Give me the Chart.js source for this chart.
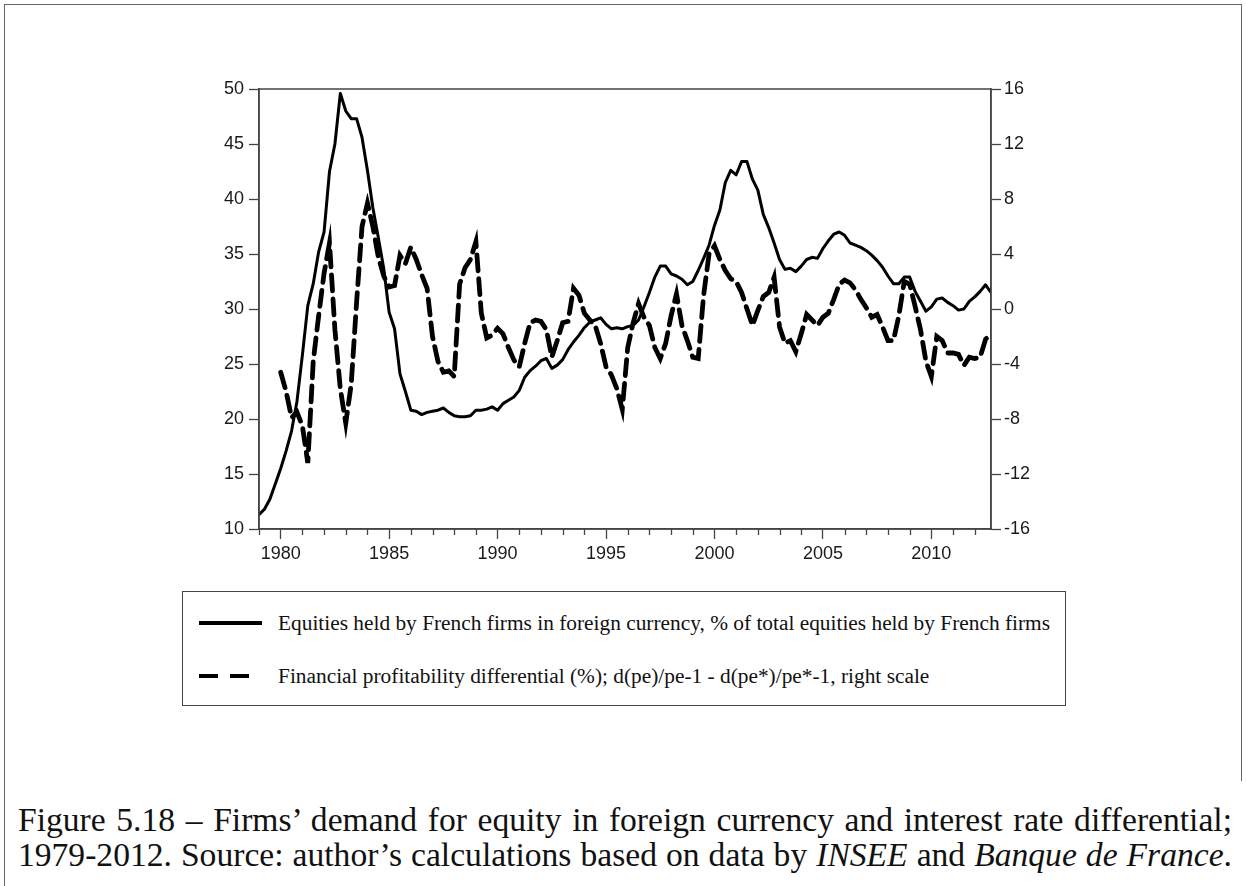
<!DOCTYPE html>
<html lang="en">
<head>
<meta charset="UTF-8">
<title>Firms' demand for equity in foreign currency</title>
<script src="https://cdn.jsdelivr.net/npm/chart.js"></script>
<style>
  body { margin: 0; background: #fff; }
  .page { position: relative; width: 1246px; height: 886px; overflow: hidden; background: #fff; }
  .frame { position: absolute; left: 4px; top: 4px; width: 1236px; height: 776px; border: 1px solid #666; border-bottom: none; }
  .frame-left { position: absolute; left: 4px; top: 780px; height: 106px; border-left: 1px solid #666; }
  #chartBox { position: absolute; left: 0; top: 0; width: 1246px; height: 580px; }
  .legend { position: absolute; left: 182px; top: 591px; width: 884px; height: 115px; border: 1.5px solid #444; box-sizing: border-box; }
  .legend-row { position: absolute; left: 16px; height: 30px; }
  .sample { position: absolute; left: 0; top: 13px; height: 4px; background: #000; }
  .legend-text { position: absolute; left: 79px; top: 0; line-height: 30px; white-space: nowrap;
                 font-family: "Liberation Serif", serif; font-size: 20px; color: #111; transform-origin: left center; }
  .caption { position: absolute; left: 18px; top: 805px; width: 1214px; font-family: "Liberation Serif", serif; font-size: 32px; color: #111; }
  .caption div { line-height: 35px; white-space: nowrap; }
  .caption.just div { text-align: justify; text-align-last: justify; }
</style>
</head>
<body>
<div class="page">
  <div class="frame"></div>
  <div class="frame-left"></div>
  <div id="chartBox"><canvas id="grafico"></canvas></div>

  <div class="legend">
    <div class="legend-row" style="top:16px">
      <div class="sample" style="width:63px"></div>
      <span class="legend-text" id="leg1">Equities held by French firms in foreign currency, % of total equities held by French firms</span>
    </div>
    <div class="legend-row" style="top:69px">
      <div class="sample" style="width:19px"></div>
      <div class="sample" style="left:31px;width:19px"></div>
      <span class="legend-text" id="leg2">Financial profitability differential (%); d(pe)/pe-1 - d(pe*)/pe*-1, right scale</span>
    </div>
  </div>

  <div class="caption" id="legenda">
    <div><span id="linha1">Figure 5.18 – Firms’ demand for equity in foreign currency and interest rate differential;</span></div>
    <div><span id="linha2">1979-2012. Source: author’s calculations based on data by <i>INSEE</i> and <i>Banque de France</i>.</span></div>
  </div>
</div>

<script>
// quarterly series, first observation in Q1 of the start year
var startEquity = 1979;
var startDiff = 1980;

// equities in foreign currency, % of total equities held by French firms (left scale)
var equityShare = [
  11.3, 11.8, 12.7, 14.1,
  15.5, 17.1, 18.9, 21.6,
  25.8, 30.3, 32.3, 35.2,
  37.0, 42.5, 45.0, 49.6,
  48.0, 47.3, 47.3, 45.6,
  42.6, 39.2, 36.5, 33.7,
  29.7, 28.2, 24.1, 22.5,
  20.8, 20.7, 20.4, 20.6,
  20.7, 20.8, 21.0, 20.6,
  20.3, 20.2, 20.2, 20.3,
  20.8, 20.8, 20.9, 21.1,
  20.8, 21.4, 21.7, 22.0,
  22.6, 23.8, 24.4, 24.8,
  25.3, 25.5, 24.6, 24.9,
  25.4, 26.3, 27.0, 27.6,
  28.3, 28.8, 29.0, 29.2,
  28.6, 28.2, 28.3, 28.2,
  28.4, 28.5, 29.0, 30.2,
  31.5, 32.9, 33.9, 33.9,
  33.2, 33.0, 32.7, 32.2,
  32.5, 33.5, 34.6, 35.8,
  37.6, 39.0, 41.5, 42.6,
  42.2, 43.4, 43.4, 41.8,
  40.8, 38.6, 37.4, 36.0,
  34.5, 33.6, 33.7, 33.4,
  33.9, 34.5, 34.7, 34.6,
  35.5, 36.2, 36.8, 37.0,
  36.7, 36.0, 35.8, 35.6,
  35.3, 34.9, 34.4, 33.8,
  33.0, 32.3, 32.3, 32.9,
  32.9, 31.6, 30.7, 29.8,
  30.2, 30.9, 31.0, 30.6,
  30.3, 29.9, 30.0, 30.7,
  31.1, 31.6, 32.2, 31.5
];

// financial profitability differential in % (right scale)
var profitDiff = [
  -4.6, -6.0, -7.9, -7.5,
  -8.5, -11.2, -3.8, -0.5,
  2.6, 4.8, -1.5, -5.8,
  -8.3, -5.5, 0.5, 6.0,
  7.7, 6.0, 3.8, 2.4,
  1.6, 1.7, 3.9, 3.3,
  4.5, 3.6, 2.5, 1.5,
  -2.0, -3.8, -4.6, -4.5,
  -4.9, 1.8, 3.0, 3.6,
  4.9, -0.3, -2.1, -1.9,
  -1.4, -1.8, -2.8, -3.7,
  -4.2, -2.5, -1.0, -0.8,
  -0.9, -1.5, -3.5, -2.3,
  -1.0, -0.9, 1.5, 1.0,
  -0.3, -0.8, -1.2, -2.5,
  -4.2, -4.8, -5.8, -7.3,
  -2.8, -1.0, 0.4, -0.6,
  -1.2, -2.8, -3.6, -2.5,
  -0.5, 1.1, -1.2, -2.3,
  -3.5, -3.6, 1.0, 4.0,
  4.6, 3.6, 2.8, 2.2,
  2.0, 1.2, 0.0, -1.2,
  -0.1, 0.9, 1.2, 2.3,
  -1.3, -2.5, -2.3, -3.1,
  -1.8, -0.4, -0.8, -1.2,
  -0.6, -0.3, 0.7, 1.8,
  2.1, 1.9, 1.4, 0.7,
  0.1, -0.6, -0.4, -1.3,
  -2.3, -2.3, -0.5, 2.0,
  1.8, 0.2, -1.5, -3.8,
  -4.9, -2.0, -2.3, -3.2,
  -3.2, -3.3, -4.1, -3.5,
  -3.6, -3.5, -2.2, -1.8
];

var yearLabelStep = 5;
var leftTicks = { min: 10, max: 50, step: 5 };
var rightTicks = { min: -16, max: 16, step: 4 };

function quarterPoints(start, values) {
  return values.map(function (v, i) { return { x: start + i / 4, y: v }; });
}

var eixoCor = '#444';
var fonteEixo = { family: '"Liberation Sans", Arial, sans-serif', size: 18 };

// plot frame on all four sides + short yearly ticks under the x axis
var molduraPlugin = {
  id: 'moldura',
  afterDraw: function (chart) {
    var ctx = chart.ctx, a = chart.chartArea, x = chart.scales.x;
    ctx.save();
    ctx.strokeStyle = eixoCor;
    ctx.lineWidth = 1.5;
    ctx.strokeRect(a.left, a.top, a.right - a.left, a.bottom - a.top);
    ctx.beginPath();
    for (var yr = Math.ceil(x.min); yr <= x.max; yr++) {
      if (yr % yearLabelStep === 0) continue;
      var px = Math.round(x.getPixelForValue(yr)) + 0.5;
      ctx.moveTo(px, a.bottom);
      ctx.lineTo(px, a.bottom + 6);
    }
    ctx.lineWidth = 1.3;
    ctx.stroke();
    ctx.restore();
  }
};

Chart.defaults.color = '#1a1a1a';

new Chart(document.getElementById('grafico'), {
  type: 'line',
  data: {
    datasets: [
      {
        label: 'Equities held by French firms in foreign currency, % of total equities held by French firms',
        data: quarterPoints(startEquity, equityShare),
        yAxisID: 'y',
        borderColor: '#000',
        borderWidth: 3,
        pointRadius: 0,
        tension: 0,
        borderJoinStyle: 'round'
      },
      {
        label: 'Financial profitability differential (%); d(pe)/pe-1 - d(pe*)/pe*-1, right scale',
        data: quarterPoints(startDiff, profitDiff),
        yAxisID: 'y1',
        borderColor: '#000',
        borderWidth: 4.8,
        borderDash: [16, 8],
        borderCapStyle: 'round',
        pointRadius: 0,
        tension: 0
      }
    ]
  },
  options: {
    responsive: true,
    maintainAspectRatio: false,
    animation: false,
    layout: { padding: { top: 89, left: 0, right: 0, bottom: 0 } },
    plugins: { legend: { display: false }, tooltip: { enabled: false } },
    scales: {
      x: {
        type: 'linear',
        min: startEquity,
        max: 2012.75,
        afterFit: function (s) { s.height = 580 - 529; },
        border: { color: eixoCor, width: 1.5 },
        grid: {
          drawOnChartArea: false,
          tickLength: 10,
          tickWidth: 1.3,
          tickColor: function (c) {
            return c.tick && c.tick.value % yearLabelStep === 0 ? eixoCor : 'rgba(0,0,0,0)';
          }
        },
        ticks: {
          stepSize: 1,
          autoSkip: false,
          maxRotation: 0,
          padding: 4,
          font: fonteEixo,
          callback: function (v) { return v % yearLabelStep === 0 ? String(v) : ''; }
        }
      },
      y: {
        position: 'left',
        min: leftTicks.min,
        max: leftTicks.max,
        afterFit: function (s) { s.width = 259; },
        border: { color: eixoCor, width: 1.5 },
        grid: { drawOnChartArea: false, tickLength: 10, tickColor: eixoCor, tickWidth: 1.3 },
        ticks: { stepSize: leftTicks.step, padding: 5, font: fonteEixo }
      },
      y1: {
        position: 'right',
        min: rightTicks.min,
        max: rightTicks.max,
        afterFit: function (s) { s.width = 1246 - 991; },
        border: { color: eixoCor, width: 1.5 },
        grid: { drawOnChartArea: false, tickLength: 10, tickColor: eixoCor, tickWidth: 1.3 },
        ticks: { stepSize: rightTicks.step, padding: 3, font: fonteEixo }
      }
    }
  },
  plugins: [molduraPlugin]
});

// legend text squeezed to the width of the boxed legend
var leg1 = document.getElementById('leg1');
var leg2 = document.getElementById('leg2');
var escala = 772 / leg1.getBoundingClientRect().width;
leg1.style.transform = 'scaleX(' + escala + ')';
leg2.style.transform = 'scaleX(' + escala + ')';

// caption: font sized so the longer line fits the text width, then both lines justified
var legenda = document.getElementById('legenda');
var larg = Math.max(document.getElementById('linha1').getBoundingClientRect().width,
                    document.getElementById('linha2').getBoundingClientRect().width);
var tamanho = Math.floor(32 * 1210 / larg * 10) / 10;
legenda.style.fontSize = tamanho + 'px';
legenda.style.top = (833 - 17.5 - 0.39 * tamanho).toFixed(1) + 'px';
legenda.classList.add('just');
</script>
</body>
</html>
